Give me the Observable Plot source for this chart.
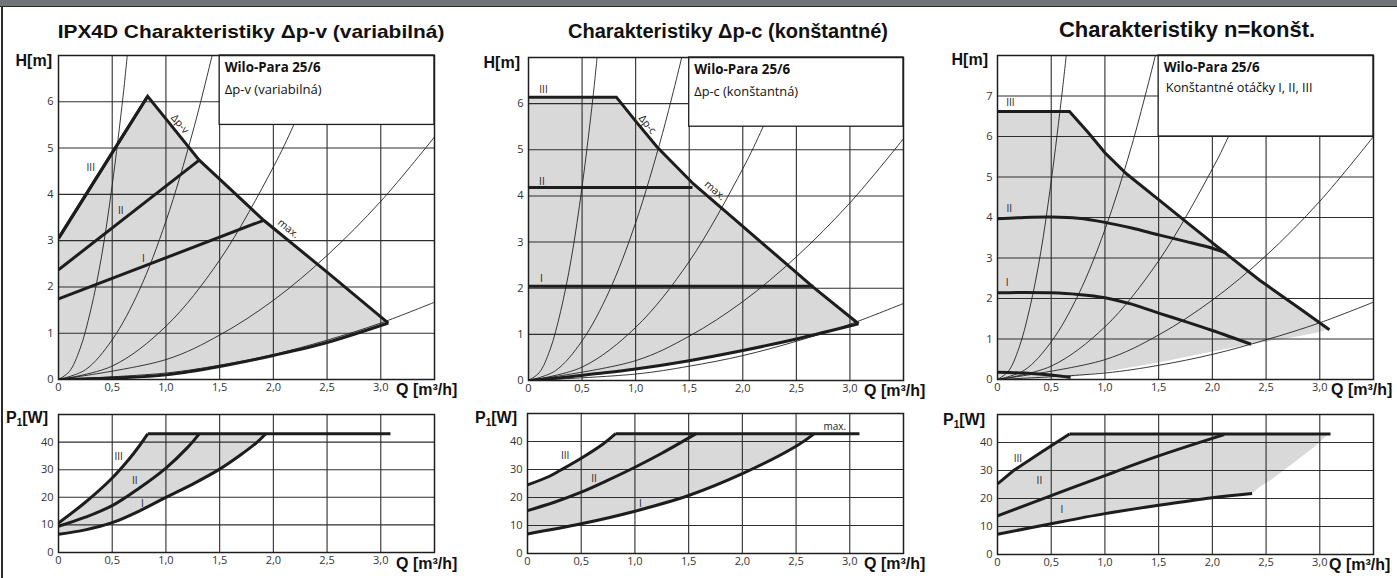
<!DOCTYPE html>
<html><head><meta charset="utf-8">
<script src="https://cdn.jsdelivr.net/npm/d3@7"></script>
<script src="https://cdn.jsdelivr.net/npm/@observablehq/plot@0.6"></script>
<style>
body{margin:0;background:#fff;overflow:hidden}
#page{position:relative;width:1397px;height:578px;overflow:hidden;background:#fff}
.band{position:absolute;left:0;top:0;width:1397px;height:6px;background:#737477;border-bottom:1.5px solid #2b2b2b}
.lborder{position:absolute;left:1px;top:6px;width:1.5px;height:572px;background:#2b2b2b}
.title{position:absolute;font-family:"Liberation Sans",Arial,sans-serif;font-weight:bold;line-height:24px;color:#111;white-space:nowrap}
.lab{position:absolute;font-family:"Liberation Sans",Arial,sans-serif;font-weight:bold;font-size:16px;line-height:16px;color:#111;white-space:nowrap}
.r{text-align:right}
.sub{font-size:10px;position:relative;top:3px}
</style></head>
<body>
<div id="page">
  <div class="band"></div><div class="lborder"></div>
  <div class="title" style="left:251px;top:20px;font-size:19px;transform:translateX(-50%) scaleX(1.1)">IPX4D Charakteristiky Δp-v (variabilná)</div>
  <div class="title" style="left:728px;top:19px;font-size:20px;transform:translateX(-50%)">Charakteristiky Δp-c (konštantné)</div>
  <div class="title" style="left:1187px;top:18px;font-size:22px;transform:translateX(-50%)">Charakteristiky n=konšt.</div>

  <div class="lab r" style="left:0;width:52px;top:53px">H[m]</div>
  <div class="lab r" style="left:468px;width:52px;top:55px">H[m]</div>
  <div class="lab r" style="left:936px;width:52px;top:52px">H[m]</div>
  <div class="lab r" style="left:0;width:48px;top:410px">P<span class="sub">1</span>[W]</div>
  <div class="lab r" style="left:465px;width:52px;top:410px">P<span class="sub">1</span>[W]</div>
  <div class="lab r" style="left:933px;width:52px;top:412px">P<span class="sub">1</span>[W]</div>
  <div class="lab" style="left:396px;top:382px">Q [m³/h]</div>
  <div class="lab" style="left:396px;top:556px">Q [m³/h]</div>
  <div class="lab" style="left:864px;top:383px">Q [m³/h]</div>
  <div class="lab" style="left:864px;top:556px">Q [m³/h]</div>
  <div class="lab" style="left:1331px;top:382px">Q [m³/h]</div>
  <div class="lab" style="left:1329px;top:557px">Q [m³/h]</div>
</div>
<script>
// ---------- axes ----------
const qDomain = [0, 3.5];
const qTicks = [0, 0.5, 1, 1.5, 2, 2.5, 3];
const qGrid = [0.5, 1, 1.5, 2, 2.5, 3];
const h7Domain = [0, 7];
const h7Ticks = [0, 1, 2, 3, 4, 5, 6];
const h7Grid = [1, 2, 3, 4, 5, 6];
const h8Domain = [0, 8];
const h8Ticks = [0, 1, 2, 3, 4, 5, 6, 7];
const h8Grid = [1, 2, 3, 4, 5, 6, 7];
const pDomain = [0, 50];
const pTicks = [0, 10, 20, 30, 40];
const pGrid = [10, 20, 30, 40];

// ---------- thin system curves (H 0-7 charts) ----------
const sys7A = [[0,0],[0.1,0.17],[0.2,0.66],[0.3,1.5],[0.4,2.65],[0.5,4.2],[0.6,6.1],[0.64,7]];
const sys7B = [[0,0],[0.25,0.21],[0.5,0.86],[0.75,1.92],[1.0,3.42],[1.25,5.35],[1.43,7]];
const sys7C = [[0,0],[0.5,0.29],[1.0,1.15],[1.5,2.58],[2.0,4.59],[2.19,5.5],[2.47,7]];
const sys7D = [[0,0],[1.0,0.43],[1.5,0.96],[2.0,1.71],[2.5,2.68],[3.0,3.85],[3.5,5.24]];
const sys7E = [[0,0],[1.0,0.14],[1.5,0.31],[2.0,0.54],[2.5,0.85],[3.0,1.22],[3.5,1.67]];
// ---------- thin system curves (H 0-8 chart) ----------
const sys8A = [[0,0],[0.1,0.2],[0.2,0.78],[0.3,1.76],[0.4,3.1],[0.5,4.9],[0.6,7.05],[0.64,8]];
const sys8B = [[0,0],[0.25,0.23],[0.5,0.93],[0.75,2.08],[1.0,3.7],[1.25,5.78],[1.47,8]];
const sys8C = [[0,0],[0.5,0.33],[1.0,1.3],[1.5,2.93],[2.0,5.2],[2.15,6.0],[2.48,8]];
const sys8D = [[0,0],[1.0,0.49],[1.5,1.1],[2.0,1.96],[2.5,3.06],[3.0,4.4],[3.5,6.0]];
const sys8E = [[0,0],[1.0,0.16],[1.5,0.35],[2.0,0.62],[2.5,0.98],[3.0,1.4],[3.5,1.91]];

// ---------- Δp-v : H ----------
const vH_III = [[0,3.05],[0.83,6.12]];
const vH_II  = [[0,2.37],[1.31,4.74]];
const vH_I   = [[0,1.74],[1.91,3.44]];
const vH_max = [[0.83,6.12],[1.0,5.63],[1.31,4.74],[1.5,4.33],[1.91,3.44],[2.5,2.32],[3.07,1.22]];
const vH_min = [[0,0],[0.5,0.03],[1.0,0.1],[1.5,0.28],[2.0,0.52],[2.5,0.8],[3.07,1.22]];
// ---------- Δp-v : P1 ----------
const vP_III = [[0,10.7],[0.25,18.2],[0.5,27],[0.65,33.5],[0.75,38.5],[0.83,43]];
const vP_II  = [[0,9.5],[0.25,12.8],[0.5,17],[0.75,23.3],[1.0,30.6],[1.2,38],[1.31,43]];
const vP_I   = [[0,6.6],[0.25,8.2],[0.5,10.8],[0.75,15],[1.0,20],[1.25,24.8],[1.5,30.2],[1.7,35.5],[1.85,40],[1.93,43]];
const vP_max = [[0.83,43],[3.09,43]];

// ---------- Δp-c : H ----------
const cH_III = [[0,6.14],[0.82,6.14]];
const cH_II  = [[0,4.18],[1.53,4.18]];
const cH_I   = [[0,2.04],[2.66,2.04]];
const cH_max = [[0.82,6.14],[1.0,5.62],[1.2,5.06],[1.54,4.26],[2.0,3.34],[2.66,2.02],[3.08,1.23]];
const cH_min = [[0,0],[0.3,0.06],[0.6,0.14],[1.0,0.25],[1.5,0.43],[2.0,0.65],[2.5,0.9],[3.08,1.23]];
// ---------- Δp-c : P1 ----------
const cP_III = [[0,24.5],[0.2,27.5],[0.31,29.8],[0.5,34],[0.7,39],[0.82,42.8]];
const cP_II  = [[0,15.3],[0.25,18.3],[0.5,21.9],[0.75,26.2],[1.0,30.8],[1.25,35.8],[1.57,42.8]];
const cP_I   = [[0,7],[0.5,10.6],[1.0,15.1],[1.5,20.7],[2.0,28.5],[2.5,38.3],[2.67,42.8]];
const cP_max = [[0.82,42.8],[3.09,42.8]];

// ---------- n=konšt. : H ----------
const nH_III = [[0,6.62],[0.67,6.62]];
const nH_max = [[0.67,6.62],[0.85,6.08],[1.0,5.6],[1.2,5.08],[1.5,4.44],[1.8,3.8],[2.13,3.1],[2.44,2.45],[2.8,1.78],[3.09,1.23]];
const nH_II  = [[0,3.97],[0.25,4.0],[0.5,4.01],[0.75,3.98],[1.0,3.88],[1.25,3.74],[1.5,3.57],[1.75,3.41],[2.0,3.24],[2.13,3.12]];
const nH_I   = [[0,2.14],[0.25,2.15],[0.5,2.14],[0.75,2.1],[1.0,2.02],[1.25,1.86],[1.5,1.64],[1.75,1.43],[2.0,1.21],[2.36,0.87]];
const nH_low = [[0,0.18],[0.25,0.16],[0.5,0.11],[0.68,0.05]];
const nH_fillEdge = [[0,0],[0.68,0.06],[1.0,0.19],[1.5,0.42],[2.0,0.69],[2.36,0.87],[2.7,1.02],[2.98,1.16],[3.05,1.22]];
// ---------- n=konšt. : P1 ----------
const nP_III = [[0,25.2],[0.15,30],[0.4,36.3],[0.67,43]];
const nP_II  = [[0,13.8],[0.5,21],[1.0,28.2],[1.5,35.2],[2.11,42.8]];
const nP_I   = [[0,7.2],[0.5,11],[1.0,14.6],[1.5,17.6],[2.0,20.3],[2.37,21.8]];
const nP_max = [[0.67,43],[3.1,43]];
const nP_fillEdge = [[3.08,43],[2.95,38.5],[2.75,32.6],[2.55,26.8],[2.44,24.2],[2.37,21.8]];

// ---------- labels ----------
const vH_labels = [{q:0.3,v:4.58,t:"III"},{q:0.58,v:3.64,t:"II"},{q:0.79,v:2.61,t:"I"}];
const vH_rot = [{q:1.13,v:5.52,t:"Δp-v",r:50},{q:2.14,v:3.26,t:"max.",r:39}];
const cH_labels = [{q:0.14,v:6.29,t:"III"},{q:0.125,v:4.3,t:"II"},{q:0.12,v:2.2,t:"I"}];
const cH_rot = [{q:1.11,v:5.55,t:"Δp-c",r:51},{q:1.74,v:4.12,t:"max.",r:41}];
const nH_labels = [{q:0.12,v:6.82,t:"III"},{q:0.11,v:4.21,t:"II"},{q:0.09,v:2.4,t:"I"}];
const vP_labels = [{q:0.56,v:34.8,t:"III"},{q:0.71,v:25.8,t:"II"},{q:0.78,v:17.6,t:"I"}];
const cP_labels = [{q:0.35,v:35,t:"III"},{q:0.62,v:26.7,t:"II"},{q:1.05,v:17.7,t:"I"},{q:2.86,v:45.3,t:"max."}];
const nP_labels = [{q:0.19,v:34.1,t:"III"},{q:0.39,v:26.3,t:"II"},{q:0.6,v:16,t:"I"}];

const box7 = {q:[1.5,3.5], v:[5.5,7]};
const box8 = {q:[1.5,3.5], v:[6,8]};
const legendV = ["Wilo-Para 25/6", "Δp-v (variabilná)"];
const legendC = ["Wilo-Para 25/6", "Δp-c (konštantná)"];
const legendN = ["Wilo-Para 25/6", "Konštantné otáčky I, II, III"];

// ---------- styling ----------
const ink = "#1d1d1d";
const fillGray = "#d9d9d9";
// pixel widths of the legend texts in the reference (used to size the font)
const legendTextWidth = {"Wilo-Para 25/6": 96, "Δp-v (variabilná)": 97, "Δp-c (konštantná)": 104, "Konštantné otáčky I, II, III": 147};
const fmtQ = d => d === 0 ? "0" : d.toFixed(1).replace(".", ",");
const X = d => d[0], Y = d => d[1];

function panel(o) {
  const ml = 45, mr = 20, mt = 10, mb = 25;
  const marks = [];
  marks.push(Plot.line(o.fill, {x: X, y: Y, fill: fillGray, stroke: "none", curve: "linear"}));
  marks.push(Plot.ruleX(qGrid, {stroke: "#2e2e2e", strokeWidth: 1.1}));
  marks.push(Plot.ruleY(o.yGrid, {stroke: "#2e2e2e", strokeWidth: 1.1}));
  for (const c of (o.thin || []))
    marks.push(Plot.line(c, {x: X, y: Y, stroke: "#222", strokeWidth: 0.9, curve: "catmull-rom", clip: true}));
  for (const c of o.thick)
    marks.push(Plot.line(c.p, {x: X, y: Y, stroke: ink, strokeWidth: 3, curve: c.c || "linear",
      strokeLinejoin: "miter", strokeMiterlimit: 10, strokeLinecap: "butt", clip: true}));
  if (o.box) {
    marks.push(Plot.rect([o.box], {x1: d => d.q[0], x2: d => d.q[1], y1: d => d.v[0], y2: d => d.v[1],
      fill: "white", stroke: ink, strokeWidth: 1.3}));
    marks.push(Plot.text([o.box], {x: d => d.q[0], y: d => d.v[1], text: () => o.legend[0], dx: 5, dy: 12,
      textAnchor: "start", fontWeight: "bold", fontSize: 14, fill: "#111", fontFamily: "'Open Sans', sans-serif"}));
    marks.push(Plot.text([o.box], {x: d => d.q[0], y: d => d.v[1], text: () => o.legend[1], dx: o.legendDx || 5, dy: o.legendDy || 34,
      textAnchor: "start", fontSize: 13, fill: "#111", fontFamily: "'Open Sans', sans-serif"}));
  }
  marks.push(Plot.frame({stroke: ink, strokeWidth: 1.5}));
  if (o.labels) marks.push(Plot.text(o.labels, {x: "q", y: "v", text: "t", fontSize: 10, fill: "#222"}));
  if (o.rot) marks.push(Plot.text(o.rot, {x: "q", y: "v", text: "t", rotate: "r", fontSize: 10.5, fill: "#222"}));

  const svg = Plot.plot({
    width: o.R - o.L + ml + mr, height: o.B - o.T + mt + mb,
    marginLeft: ml, marginRight: mr, marginTop: mt, marginBottom: mb,
    style: {fontFamily: "'Open Sans', sans-serif", fontSize: "11px", color: "#333", background: "transparent", overflow: "visible"},
    x: {domain: qDomain, ticks: qTicks, tickFormat: fmtQ, tickSize: 0, tickPadding: 4, label: null},
    y: {domain: o.yDomain, ticks: o.yTicks, tickFormat: d => String(d), tickSize: 0, tickPadding: 5, label: null},
    marks
  });
  svg.style.position = "absolute";
  svg.style.left = (o.L - ml) + "px";
  svg.style.top = (o.T - mt) + "px";
  document.getElementById("page").appendChild(svg);
  // size the legend texts so that they take the reference's width
  svg.querySelectorAll("text").forEach(t => {
    const target = legendTextWidth[t.textContent];
    if (!target) return;
    const w = t.getComputedTextLength();
    const fs = parseFloat(getComputedStyle(t).fontSize);
    if (w > 0) t.style.fontSize = (fs * target / w).toFixed(2) + "px";
  });
}

const thin7 = [sys7A, sys7B, sys7C, sys7D, sys7E];
const thin8 = [sys8A, sys8B, sys8C, sys8D, sys8E];

// chart 1 top
panel({L: 58, T: 55, R: 434, B: 379, yDomain: h7Domain, yTicks: h7Ticks, yGrid: h7Grid,
  fill: [...vH_III, ...vH_max.slice(1), ...vH_min.slice().reverse()],
  thin: thin7,
  thick: [{p: vH_min, c: "catmull-rom"}, {p: vH_III}, {p: vH_II}, {p: vH_I}, {p: [...vH_III, ...vH_max.slice(1)]}],
  box: box7, legend: legendV, labels: vH_labels, rot: vH_rot});
// chart 1 bottom
panel({L: 58, T: 414, R: 434, B: 552, yDomain: pDomain, yTicks: pTicks, yGrid: pGrid,
  fill: [...vP_III, ...vP_I.slice().reverse()],
  thick: [{p: vP_III, c: "catmull-rom"}, {p: vP_II, c: "catmull-rom"}, {p: vP_I, c: "catmull-rom"}, {p: vP_max}],
  labels: vP_labels});
// chart 2 top
panel({L: 528, T: 57, R: 903, B: 380, yDomain: h7Domain, yTicks: h7Ticks, yGrid: h7Grid,
  fill: [[0,0], ...cH_III, ...cH_max.slice(1), ...cH_min.slice().reverse()],
  thin: thin7,
  thick: [{p: cH_min, c: "catmull-rom"}, {p: cH_II}, {p: cH_I}, {p: [...cH_III, ...cH_max.slice(1)]}],
  box: box7, legend: legendC, labels: cH_labels, rot: cH_rot});
// chart 2 bottom
panel({L: 527, T: 413, R: 903, B: 553, yDomain: pDomain, yTicks: pTicks, yGrid: pGrid,
  fill: [...cP_III, ...cP_I.slice().reverse()],
  thick: [{p: cP_III, c: "catmull-rom"}, {p: cP_II, c: "catmull-rom"}, {p: cP_I, c: "catmull-rom"}, {p: cP_max}],
  labels: cP_labels});
// chart 3 top
panel({L: 997, T: 55, R: 1373, B: 379, yDomain: h8Domain, yTicks: h8Ticks, yGrid: h8Grid,
  fill: [...nH_III, ...nH_max.slice(1), ...nH_fillEdge.slice().reverse()],
  thin: thin8,
  thick: [{p: [...nH_III, ...nH_max.slice(1)]}, {p: nH_II, c: "catmull-rom"}, {p: nH_I, c: "catmull-rom"}, {p: nH_low, c: "catmull-rom"}],
  box: box8, legend: legendN, legendDy: 32, legendDx: 7, labels: nH_labels});
// chart 3 bottom
panel({L: 997, T: 414, R: 1373, B: 554, yDomain: pDomain, yTicks: pTicks, yGrid: pGrid,
  fill: [...nP_III, ...nP_fillEdge, ...nP_I.slice().reverse()],
  thick: [{p: nP_III}, {p: nP_II, c: "catmull-rom"}, {p: nP_I, c: "catmull-rom"}, {p: nP_max}],
  labels: nP_labels});
</script>
</body></html>
